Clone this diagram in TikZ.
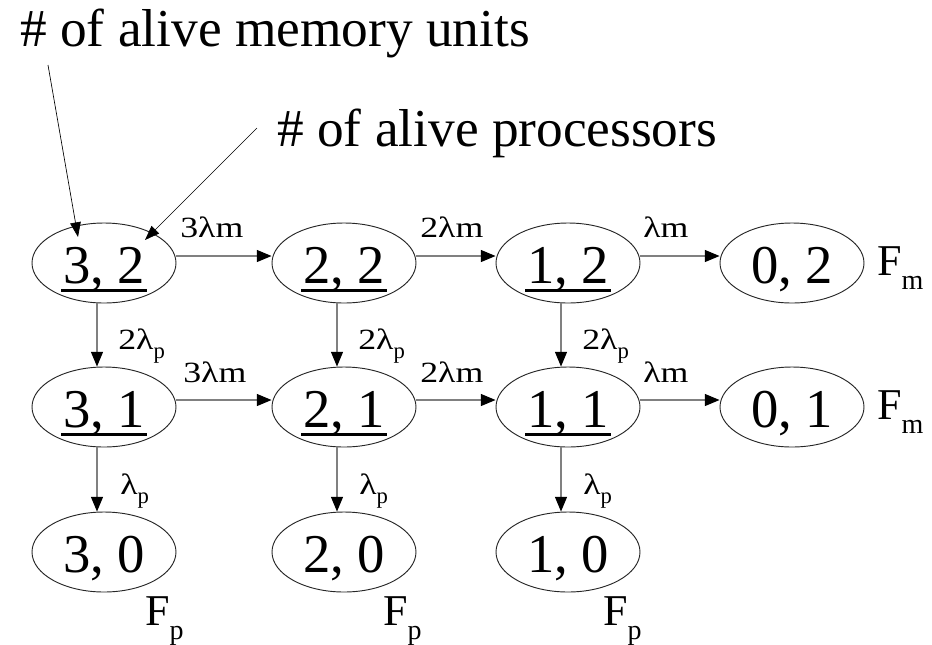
\documentclass[tikz,border=0pt]{standalone}
\usepackage{fontspec}
\setmainfont{Liberation Serif}
\usetikzlibrary{shapes.geometric,arrows.meta}
\newcommand\myul[1]{\setbox0\hbox{#1}\rlap{\hspace{-1.5pt}\rule[-6.5pt]{\dimexpr\wd0+3pt\relax}{2.4pt}}\box0}
\newcommand\lsub[1]{\raisebox{-7pt}{\fontsize{17}{17}\selectfont #1}}
\newcommand\fsub[1]{\raisebox{-11pt}{\fontsize{21}{21}\selectfont #1}}
\newcommand\rt[1]{\scalebox{1.22}[1]{#1}}
\begin{document}
\begin{tikzpicture}[x=0.75pt,y=-0.75pt,
  state/.style={ellipse, draw=black!85, line width=0.7pt, minimum width=108pt, minimum height=60pt,
    inner sep=0pt, font=\fontsize{41}{41}\selectfont, text height=31pt, text depth=0pt},
  conn/.style={draw=black!50, line width=0.8pt, -{Triangle[length=11pt,width=9pt,color=black]}},
  ptr/.style={draw=black, line width=0.5pt, -{Triangle[length=11pt,width=8pt]}},
  rate/.style={font=\fontsize{22}{22}\selectfont, anchor=base west, inner sep=0pt},
  flab/.style={font=\fontsize{33}{33}\selectfont, anchor=base west, inner sep=0pt},
  big/.style={font=\fontsize{40}{40}\selectfont, anchor=base west, inner sep=0pt}]
\useasboundingbox (0,0) rectangle (932,644);

\node[big] (t1) at (20,46) {\# of alive memory units};
\node[big] (t2) at (277,146) {\# of alive processors};

\node[state] (n32) at (104,263) {\myul{3, 2}};
\node[state] (n22) at (344,263) {\myul{2, 2}};
\node[state] (n12) at (568,263) {\myul{1, 2}};
\node[state] (n02) at (792,263) {0, 2};
\node[state] (n31) at (104,407) {\myul{3, 1}};
\node[state] (n21) at (344,407) {\myul{2, 1}};
\node[state] (n11) at (568,407) {\myul{1, 1}};
\node[state] (n01) at (792,407) {0, 1};
\node[state] (n30) at (104,552) {3, 0};
\node[state] (n20) at (344,552) {2, 0};
\node[state] (n10) at (568,552) {1, 0};

\coordinate (s1) at (48,65);
\coordinate (e1) at (78,237);
\coordinate (s2) at (257,128);
\coordinate (e2) at (145,240);
\draw[ptr] (s1) -- (e1);
\draw[ptr] (s2) -- (e2);

\foreach \a/\b in {n32/n22,n22/n12,n12/n02,n31/n21,n21/n11,n11/n01}
  \draw[conn] ([yshift=5.25pt]\a.east) -- ([yshift=5.25pt]\b.west);
\foreach \a/\b in {n32/n31,n22/n21,n12/n11,n31/n30,n21/n20,n11/n10}
  \draw[conn] ([xshift=-5.25pt]\a.south) -- ([xshift=-5.25pt]\b.north);

\node[rate] (r1) at (180,237) {\rt{3λm}};
\node[rate] (r2) at (420,237) {\rt{2λm}};
\node[rate] (r3) at (643,237) {\rt{λm}};
\node[rate] (r4) at (183,382) {\rt{3λm}};
\node[rate] (r5) at (420,382) {\rt{2λm}};
\node[rate] (r6) at (643,382) {\rt{λm}};

\node[rate] (v1) at (118,349) {\rt{2λ}\lsub{p}};
\node[rate] (v2) at (358,349) {\rt{2λ}\lsub{p}};
\node[rate] (v3) at (582,349) {\rt{2λ}\lsub{p}};
\node[rate] (v4) at (120,494) {\rt{λ}\lsub{p}};
\node[rate] (v5) at (359,494) {\rt{λ}\lsub{p}};
\node[rate] (v6) at (583,494) {\rt{λ}\lsub{p}};

\node[flab] (fm1) at (877,275) {F\fsub{m}};
\node[flab] (fm2) at (877,419) {F\fsub{m}};
\node[flab] (fp1) at (145,625) {F\fsub{p}};
\node[flab] (fp2) at (383,625) {F\fsub{p}};
\node[flab] (fp3) at (603,625) {F\fsub{p}};
\end{tikzpicture}
\end{document}
